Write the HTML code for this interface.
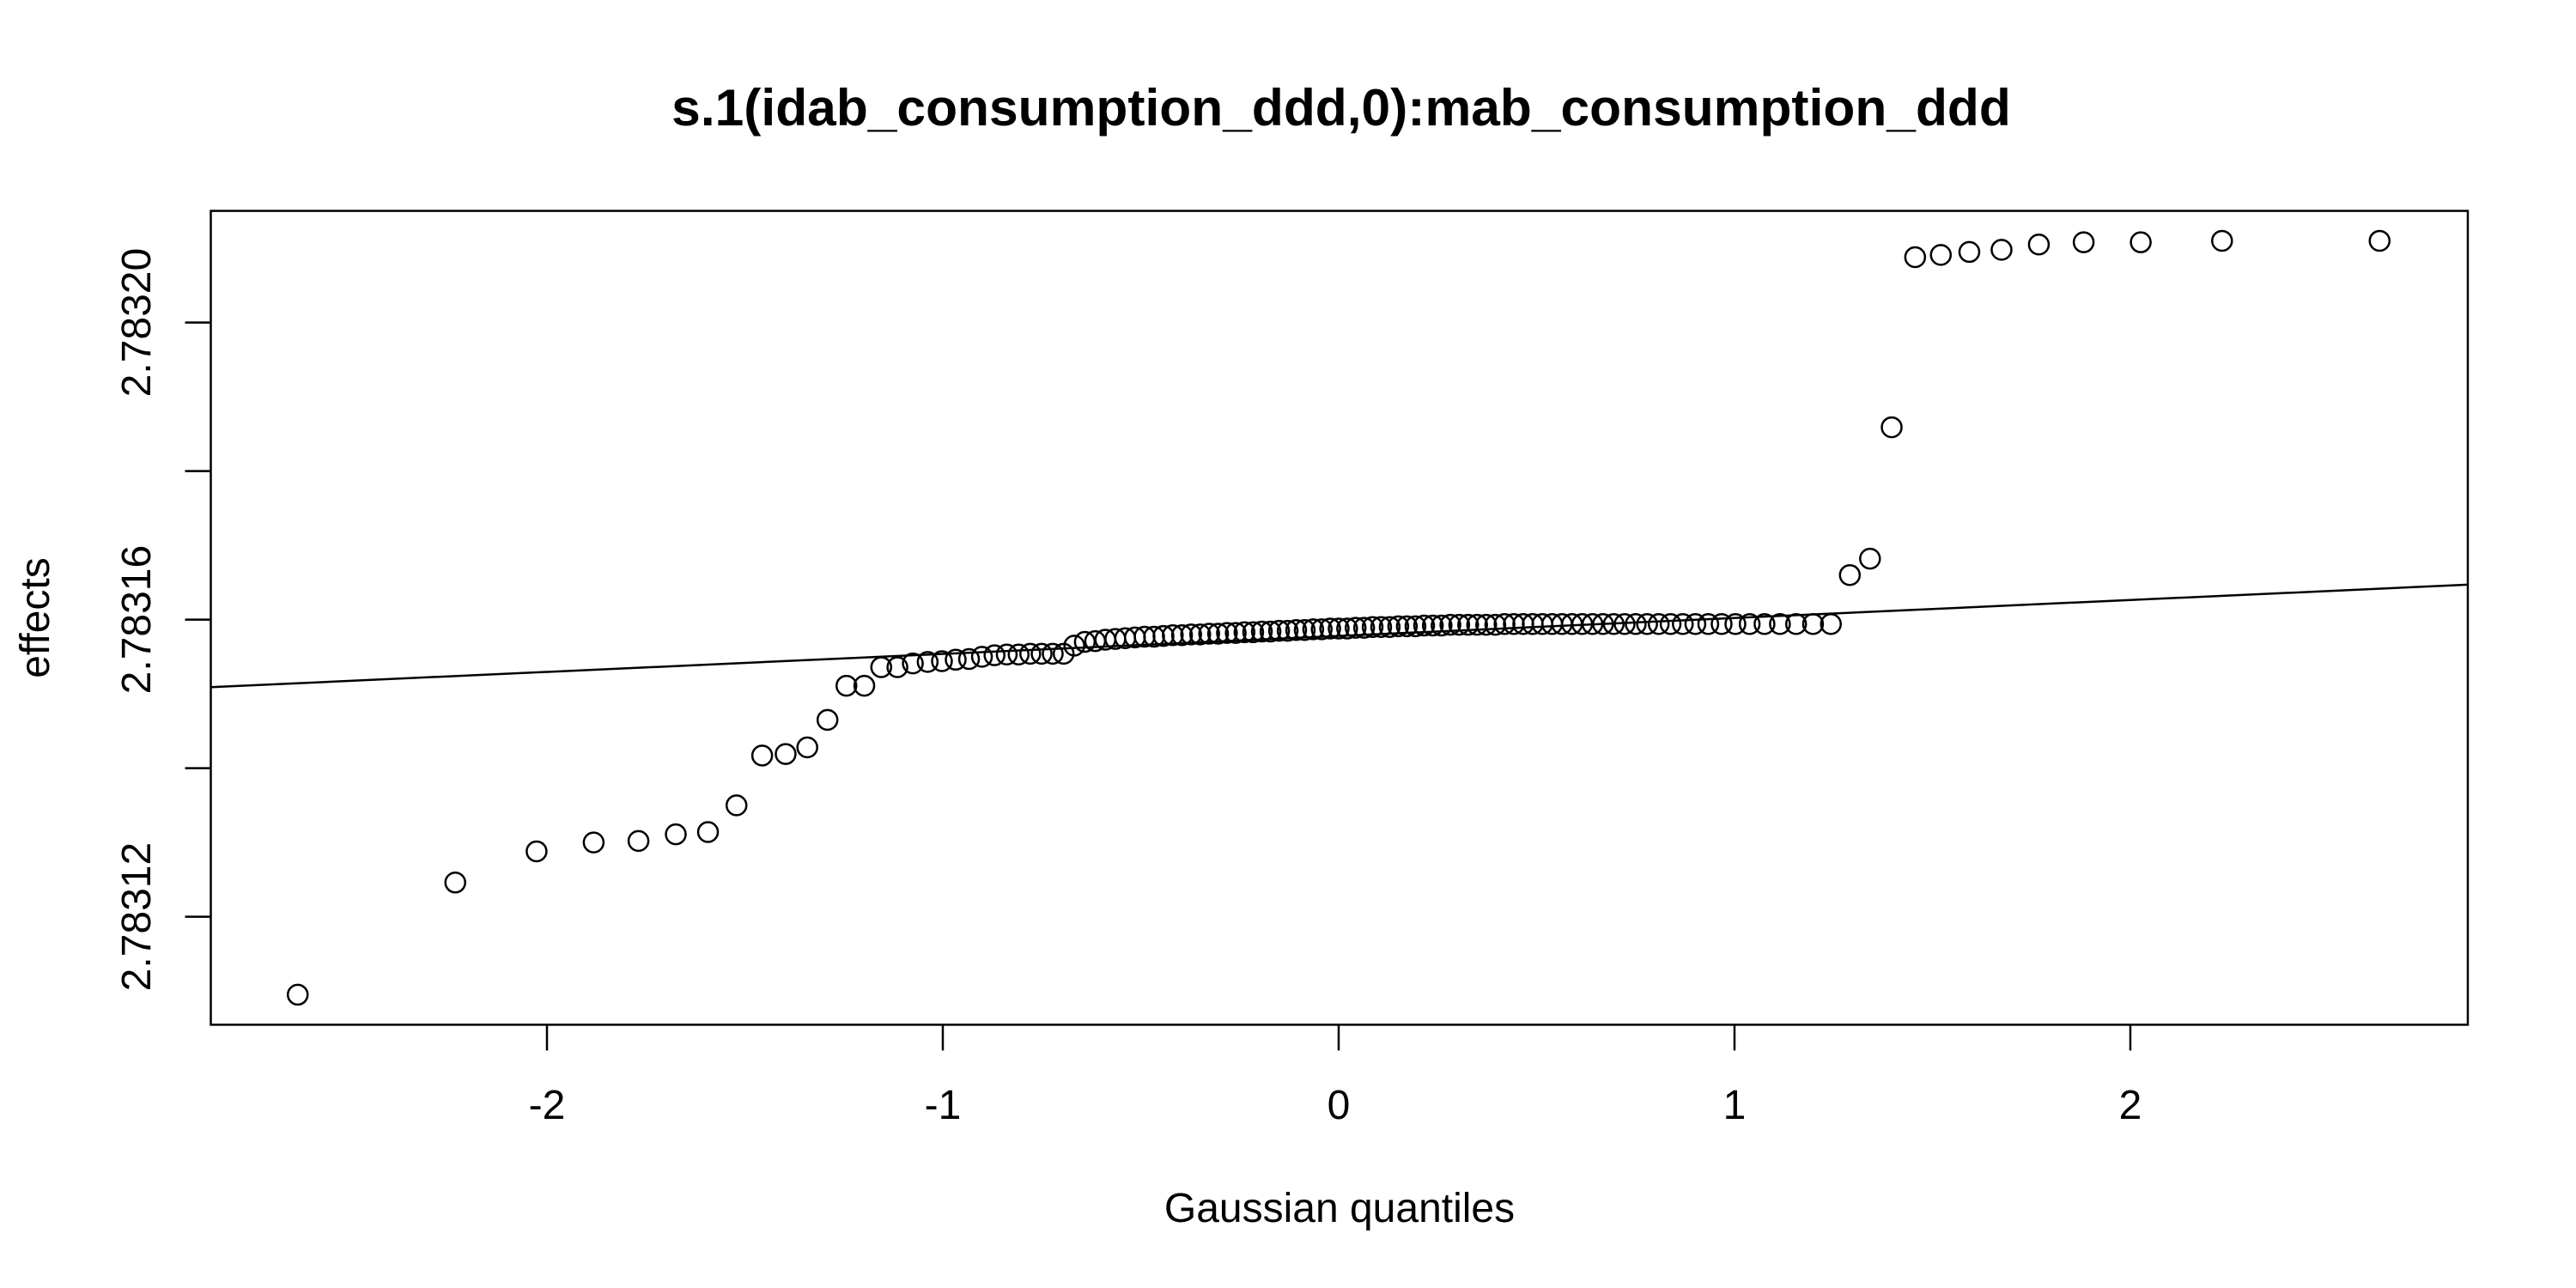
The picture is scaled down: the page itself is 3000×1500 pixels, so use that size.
<!DOCTYPE html>
<html><head><meta charset="utf-8"><style>
html,body{margin:0;padding:0;background:#fff;}
svg{display:block;font-family:"Liberation Sans",Arial,sans-serif;}
</style></head><body>
<svg id="chart" width="3000" height="1500" viewBox="0 0 3000 1500">
<rect width="3000" height="1500" fill="#fff"/>
<text x="1562" y="146" font-size="60.5" font-weight="bold" text-anchor="middle">s.1(idab_consumption_ddd,0):mab_consumption_ddd</text>
<text x="1560" y="1423" font-size="48" text-anchor="middle">Gaussian quantiles</text>
<text transform="translate(57,719.5) rotate(-90)" font-size="48" text-anchor="middle">effects</text>
<g id="axes"></g>
<g id="marks"></g>
<rect x="245.5" y="245.6" width="2628.5" height="947.8" fill="none" stroke="#000" stroke-width="2.5"/>
</svg>
<script>
const xTicks = [-2, -1, 0, 1, 2];
const xTickLabels = ["-2", "-1", "0", "1", "2"];
const yTicks = [2.78312, 2.78314, 2.78316, 2.78318, 2.78320];
const yTickLabels = ["2.78312", "", "2.78316", "", "2.78320"];
// effects (sorted), in units of 1e-5 relative to 2.78316
const effectOffsets = [
 -5.05,-3.54,-3.12,-3.00,-2.98,-2.89,-2.86,-2.50,-1.83,-1.81,
 -1.72,-1.35,-0.89,-0.89,-0.64,-0.64,-0.59,-0.57,-0.56,-0.54,
 -0.53,-0.50,-0.48,-0.47,-0.47,-0.46,-0.46,-0.46,-0.46,-0.35,
 -0.30,-0.29,-0.27,-0.26,-0.25,-0.24,-0.23,-0.23,-0.22,-0.21,
 -0.21,-0.20,-0.20,-0.19,-0.19,-0.18,-0.18,-0.17,-0.17,-0.16,
 -0.16,-0.15,-0.15,-0.14,-0.14,-0.13,-0.13,-0.12,-0.12,-0.12,
 -0.11,-0.11,-0.10,-0.10,-0.10,-0.09,-0.09,-0.09,-0.08,-0.08,
 -0.08,-0.07,-0.07,-0.07,-0.07,-0.07,-0.07,-0.06,-0.06,-0.06,
 -0.06,-0.06,-0.06,-0.06,-0.06,-0.06,-0.06,-0.06,-0.06,-0.06,
 -0.06,-0.06,-0.06,-0.06,-0.06,-0.06,-0.06,-0.06,-0.06,-0.06,
 -0.06,-0.06,-0.06,-0.06,-0.06,0.60,0.82,2.59,4.88,4.91,
 4.95,4.98,5.05,5.08,5.08,5.10,5.10
];
const effectBase = 2.78316;
const refLineIntercept = 2.7831578;
const refLineSlope = 0.00000242;

const NS = "http://www.w3.org/2000/svg";
const X0 = 1559, XU = 461;
const Y0 = 721.6, YU = 86.5 / 1e-5;
const xScale = q => X0 + q * XU;
const yScale = v => Y0 - (v - 2.78316) * YU;
const PL = 245.5, PR = 2874, PT = 245.6, PB = 1193.4;

function qnorm(p){
  const a=[-3.969683028665376e+01,2.209460984245205e+02,-2.759285104469687e+02,1.383577518672690e+02,-3.066479806614716e+01,2.506628277459239e+00];
  const b=[-5.447609879822406e+01,1.615858368580409e+02,-1.556989798598866e+02,6.680131188771972e+01,-1.328068155288572e+01];
  const c=[-7.784894002430293e-03,-3.223964580411365e-01,-2.400758277161838e+00,-2.549732539343734e+00,4.374664141464968e+00,2.938163982698783e+00];
  const d=[7.784695709041462e-03,3.224671290700398e-01,2.445134137142996e+00,3.754408661907416e+00];
  const pl=0.02425; let q,r;
  if(p<pl){q=Math.sqrt(-2*Math.log(p));return (((((c[0]*q+c[1])*q+c[2])*q+c[3])*q+c[4])*q+c[5])/((((d[0]*q+d[1])*q+d[2])*q+d[3])*q+1);}
  if(p>1-pl){q=Math.sqrt(-2*Math.log(1-p));return -(((((c[0]*q+c[1])*q+c[2])*q+c[3])*q+c[4])*q+c[5])/((((d[0]*q+d[1])*q+d[2])*q+d[3])*q+1);}
  q=p-0.5;r=q*q;return (((((a[0]*r+a[1])*r+a[2])*r+a[3])*r+a[4])*r+a[5])*q/(((((b[0]*r+b[1])*r+b[2])*r+b[3])*r+b[4])*r+1);
}

const axes = document.getElementById("axes");
const marks = document.getElementById("marks");

xTicks.forEach((t, i) => {
  const x = xScale(t);
  const ln = document.createElementNS(NS, "line");
  ln.setAttribute("x1", x); ln.setAttribute("x2", x);
  ln.setAttribute("y1", PB); ln.setAttribute("y2", PB + 30);
  ln.setAttribute("stroke", "#000"); ln.setAttribute("stroke-width", "2.5");
  
  
  axes.appendChild(ln);
  const tx = document.createElementNS(NS, "text");
  tx.setAttribute("x", x); tx.setAttribute("y", 1303);
  tx.setAttribute("font-size", "48"); tx.setAttribute("text-anchor", "middle");
  tx.textContent = xTickLabels[i];
  
  
  axes.appendChild(tx);
});

yTicks.forEach((t, i) => {
  const y = yScale(t);
  const ln = document.createElementNS(NS, "line");
  ln.setAttribute("x1", PL - 30); ln.setAttribute("x2", PL);
  ln.setAttribute("y1", y); ln.setAttribute("y2", y);
  ln.setAttribute("stroke", "#000"); ln.setAttribute("stroke-width", "2.5");
  
  
  axes.appendChild(ln);
  if (yTickLabels[i]) {
    const tx = document.createElementNS(NS, "text");
    tx.setAttribute("transform", "translate(175," + y + ") rotate(-90)");
    tx.setAttribute("font-size", "48"); tx.setAttribute("text-anchor", "middle");
    tx.textContent = yTickLabels[i];
    
    
    axes.appendChild(tx);
  }
});

const qL = (PL - X0) / XU, qR = (PR - X0) / XU;
const refLine = document.createElementNS(NS, "line");
refLine.setAttribute("x1", PL); refLine.setAttribute("x2", PR);
refLine.setAttribute("y1", yScale(refLineIntercept + refLineSlope * qL));
refLine.setAttribute("y2", yScale(refLineIntercept + refLineSlope * qR));
refLine.setAttribute("stroke", "#000"); refLine.setAttribute("stroke-width", "2.5");


marks.appendChild(refLine);

const n = effectOffsets.length;
effectOffsets.forEach((off, i) => {
  const q = qnorm((i + 0.5) / n);
  const v = effectBase + off * 1e-5;
  const c = document.createElementNS(NS, "circle");
  c.setAttribute("cx", xScale(q)); c.setAttribute("cy", yScale(v));
  c.setAttribute("r", "11.5");
  c.setAttribute("fill", "none"); c.setAttribute("stroke", "#000"); c.setAttribute("stroke-width", "2.5");
  
  
  marks.appendChild(c);
});
</script>
</body></html>
